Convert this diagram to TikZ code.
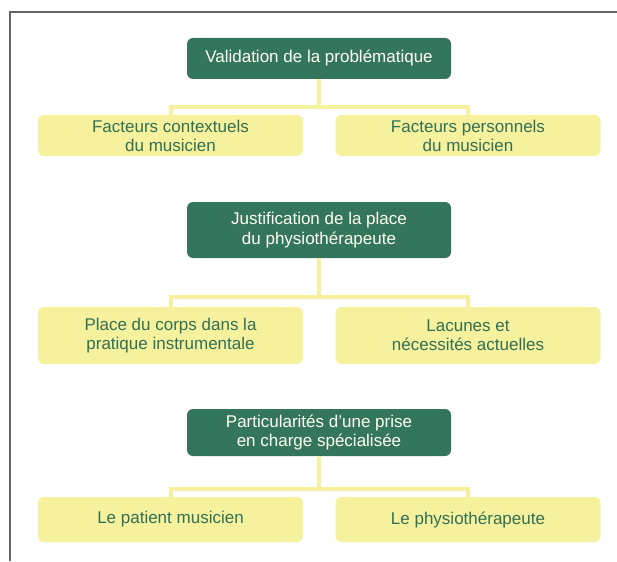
\documentclass[tikz,border=0pt]{standalone}
\usepackage{fontspec}
\setmainfont{Liberation Sans}
\definecolor{dgreen}{RGB}{51,118,91}
\definecolor{lyellow}{RGB}{246,241,156}
\definecolor{ytext}{RGB}{50,112,86}
\definecolor{frame}{RGB}{100,100,100}
\tikzset{
  gbox/.style={fill=dgreen, rounded corners=6pt, minimum width=264pt, text=white!95!yellow, align=center, inner sep=0pt, font=\fontsize{17}{19.5}\selectfont},
  ybox/.style={fill=lyellow, rounded corners=6pt, minimum width=265pt, text=ytext, align=center, inner sep=0pt, font=\fontsize{17}{19}\selectfont},
  conn/.style={draw=lyellow, line width=4pt},
  frameline/.style={draw=frame, line width=1.5pt}
}
\begin{document}
\begin{tikzpicture}[x=1pt,y=-1pt]
\useasboundingbox (0,0) rectangle (617,561);
\coordinate (fa) at (10,561);
\coordinate (fb) at (10,12);
\coordinate (fc) at (617,12);
\draw[frameline] (fa) -- (fb) -- (fc);

% section 1
\node[gbox, minimum height=41pt] (g1) at (319,58.5) {Validation de la problématique};
\node[ybox, minimum height=41pt] (y1l) at (170.5,135.5) {Facteurs contextuels\\du musicien};
\node[ybox, minimum height=41pt] (y1r) at (468,135.5) {Facteurs personnels\\du musicien};
\coordinate (j1) at (319,107.5);

% section 2
\node[gbox, minimum height=56pt] (g2) at (319,230) {Justification de la place\\du physiothérapeute};
\node[ybox, minimum height=57pt] (y2l) at (170.5,335.5) {Place du corps dans la\\pratique instrumentale};
\node[ybox, minimum height=57pt] (y2r) at (468,335.5) {Lacunes et\\nécessités actuelles};
\coordinate (j2) at (319,297);

% section 3
\node[gbox, minimum height=47pt] (g3) at (319,432.5) {Particularités d'une prise\\en charge spécialisée};
\node[ybox, minimum height=45pt] (y3l) at (170.5,519.5) {Le patient musicien};
\node[ybox, minimum height=45pt] (y3r) at (468,519.5) {Le physiothérapeute};
\coordinate (j3) at (319,488.5);

\path[conn] (g1.south) -- (j1);
\path[conn] (y1l.north) |- (j1) -| (y1r.north);
\path[conn] (g2.south) -- (j2);
\path[conn] (y2l.north) |- (j2) -| (y2r.north);
\path[conn] (g3.south) -- (j3);
\path[conn] (y3l.north) |- (j3) -| (y3r.north);
\end{tikzpicture}
\end{document}
